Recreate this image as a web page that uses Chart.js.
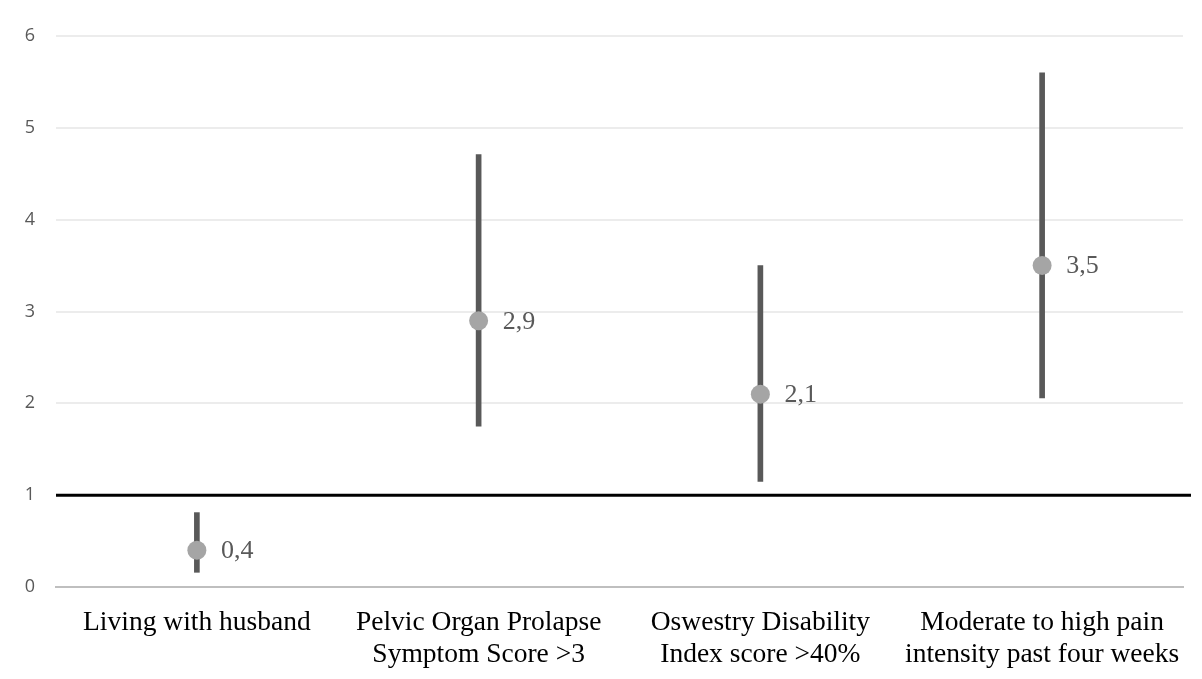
<!DOCTYPE html>
<html>
<head>
<meta charset="utf-8">
<script src="https://cdn.jsdelivr.net/npm/chart.js@4"></script>
<style>
html,body{margin:0;padding:0;background:#fff;}
#wrap{width:1202px;height:679px;position:relative;}
</style>
</head>
<body>
<div id="wrap"><canvas id="c" width="1202" height="679"></canvas></div>
<script>
const categories = [
  ["Living with husband"],
  ["Pelvic Organ Prolapse", "Symptom Score >3"],
  ["Oswestry Disability", "Index score >40%"],
  ["Moderate to high pain", "intensity past four weeks"]
];
const oddsRatio = [0.4, 2.9, 2.1, 3.5];
const ciLow = [0.16, 1.75, 1.15, 2.06];
const ciHigh = [0.81, 4.71, 3.50, 5.60];
const yTicks = [0, 1, 2, 3, 4, 5, 6];
const referenceValue = 1;

const refLinePlugin = {
  id: 'refLine',
  beforeDatasetsDraw(chart) {
    const {ctx, chartArea, scales} = chart;
    const y = scales.y.getPixelForValue(referenceValue);
    ctx.save();
    ctx.strokeStyle = '#000000';
    ctx.lineWidth = 3;
    ctx.beginPath();
    ctx.moveTo(chartArea.left, y);
    ctx.lineTo(chartArea.right + 8, y);
    ctx.stroke();
    ctx.restore();
  }
};

const labelPlugin = {
  id: 'pointLabels',
  afterDatasetsDraw(chart) {
    const {ctx} = chart;
    const meta = chart.getDatasetMeta(1);
    ctx.save();
    ctx.font = '26px "Liberation Serif", "Times New Roman", serif';
    ctx.fillStyle = '#595959';
    ctx.textAlign = 'left';
    ctx.textBaseline = 'middle';
    meta.data.forEach((pt, i) => {
      ctx.fillText(String(oddsRatio[i]).replace('.', ','), pt.x + 24, pt.y + 1);
    });
    ctx.restore();
  }
};

new Chart(document.getElementById('c'), {
  data: {
    labels: categories,
    datasets: [
      {
        type: 'bar',
        data: ciLow.map((v, i) => [v, ciHigh[i]]),
        backgroundColor: '#595959',
        barThickness: 5,
        order: 2
      },
      {
        type: 'line',
        data: oddsRatio,
        showLine: false,
        pointRadius: 9.5,
        pointHoverRadius: 9.5,
        pointBackgroundColor: '#a5a5a5',
        pointBorderWidth: 0,
        order: 1
      }
    ]
  },
  options: {
    responsive: false,
    animation: false,
    events: [],
    layout: {padding: {top: 36, right: 19, bottom: 0, left: 0}},
    plugins: {legend: {display: false}, tooltip: {enabled: false}},
    scales: {
      x: {
        offset: true,
        grid: {display: false, drawTicks: false},
        border: {display: true, color: '#bfbfbf', width: 2},
        afterFit(axis) { axis.height = 92; },
        ticks: {
          color: '#000000',
          font: {family: '"Liberation Serif", "Times New Roman", serif', size: 27.5, lineHeight: 1.16},
          maxRotation: 0,
          autoSkip: false,
          padding: 20
        }
      },
      y: {
        min: 0,
        max: 6,
        afterBuildTicks(axis) { axis.ticks = yTicks.map(v => ({value: v})); },
        afterFit(axis) { axis.width = 56; },
        grid: {color: '#ececec', lineWidth: 2, drawTicks: false},
        border: {display: false},
        ticks: {
          color: '#595959',
          font: {family: '"Open Sans", sans-serif', size: 18},
          padding: 21
        }
      }
    }
  },
  plugins: [refLinePlugin, labelPlugin]
});
</script>
</body>
</html>
